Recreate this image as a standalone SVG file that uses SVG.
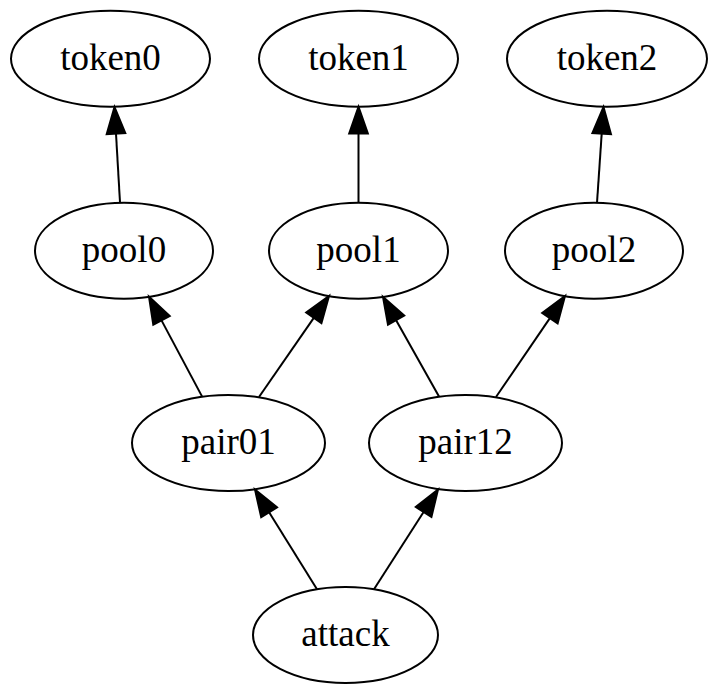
<svg xmlns="http://www.w3.org/2000/svg" width="718" height="694" viewBox="0 0 718 694">
<style>
.node ellipse{fill:none;stroke:#000;stroke-width:2}
.node text{font-family:"Liberation Serif","Times New Roman",serif;font-size:37px;text-anchor:middle;fill:#000}
.edge line{stroke:#000;stroke-width:2}
.edge polygon{fill:#000;stroke:#000;stroke-width:2;stroke-linejoin:miter}
</style>
<rect width="718" height="694" fill="#fff"/>
<g id="edges">
<g class="edge" id="pool0-token0"><line x1="120" y1="202.5" x2="116" y2="133.7"/><polygon points="125.3,133.1 114.5,107 106.7,134.2"/></g>
<g class="edge" id="pool1-token1"><line x1="358.5" y1="202.7" x2="358.5" y2="133.4"/><polygon points="367.8,133.4 358.5,106.7 349.2,133.4"/></g>
<g class="edge" id="pool2-token2"><line x1="597" y1="202.7" x2="601.7" y2="133.6"/><polygon points="611,134.2 603.5,107 592.4,133"/></g>
<g class="edge" id="pair01-pool0"><line x1="202" y1="396.4" x2="161.5" y2="320.4"/><polygon points="169.7,316 149,296.8 153.3,324.8"/></g>
<g class="edge" id="pair01-pool1"><line x1="259" y1="397" x2="313.8" y2="317.9"/><polygon points="321.4,323.2 329,296 306.2,312.6"/></g>
<g class="edge" id="pair12-pool1"><line x1="439" y1="396.4" x2="396.1" y2="320.2"/><polygon points="404.2,315.6 383,296.9 388,324.7"/></g>
<g class="edge" id="pair12-pool2"><line x1="496" y1="397" x2="549.9" y2="318.1"/><polygon points="557.6,323.4 565,296.1 542.2,312.9"/></g>
<g class="edge" id="attack-pair01"><line x1="317" y1="589.3" x2="269.1" y2="512.3"/><polygon points="277,507.4 255,489.6 261.2,517.2"/></g>
<g class="edge" id="attack-pair12"><line x1="374" y1="589.3" x2="423.6" y2="512"/><polygon points="431.4,517 438,489.5 415.8,507"/></g>
</g>
<g class="node" id="token0"><ellipse cx="110.5" cy="58.7" rx="99.5" ry="48"/><text x="110.5" y="70">token0</text></g>
<g class="node" id="token1"><ellipse cx="358.5" cy="58.7" rx="99.5" ry="48"/><text x="358.5" y="70">token1</text></g>
<g class="node" id="token2"><ellipse cx="607" cy="58.7" rx="100" ry="48"/><text x="607" y="70">token2</text></g>
<g class="node" id="pool0"><ellipse cx="124" cy="250.7" rx="89" ry="48"/><text x="124" y="262">pool0</text></g>
<g class="node" id="pool1"><ellipse cx="358.5" cy="250.7" rx="89.5" ry="48"/><text x="358.5" y="262">pool1</text></g>
<g class="node" id="pool2"><ellipse cx="594" cy="250.7" rx="89" ry="48"/><text x="594" y="262">pool2</text></g>
<g class="node" id="pair01"><ellipse cx="228.5" cy="443" rx="96.5" ry="48"/><text x="228.5" y="454">pair01</text></g>
<g class="node" id="pair12"><ellipse cx="465.5" cy="443" rx="96.5" ry="48"/><text x="465.5" y="454">pair12</text></g>
<g class="node" id="attack"><ellipse cx="345.5" cy="635" rx="92.5" ry="48"/><text x="345.5" y="646">attack</text></g>
</svg>
